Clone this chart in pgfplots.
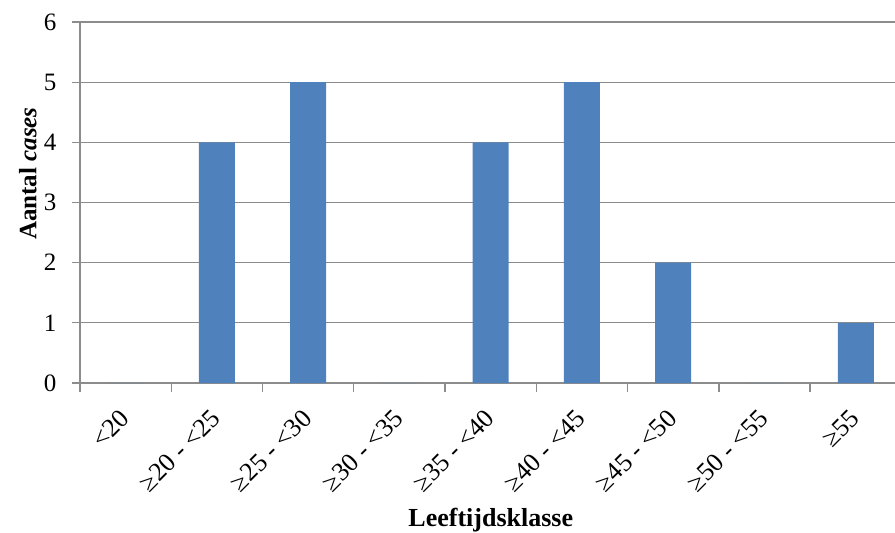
\documentclass[border=0pt]{standalone}
\usepackage{pgfplots}
\pgfplotsset{compat=1.18}
\usepackage{fontspec}
\setmainfont{Liberation Serif}
\definecolor{barblue}{HTML}{4F81BD}
\definecolor{gridgray}{HTML}{8C8C8C}
\begin{document}
\begin{tikzpicture}
\begin{axis}[
  name=ax,
  scale only axis, width=815pt, height=361pt,
  xmin=-0.5, xmax=8.43, ymin=0, ymax=6,
  ybar, bar width=36pt,
  axis lines*=left,
  axis line style={gridgray, line width=1.3pt},
  xtick={0,...,8},
  xticklabels={{<20},{≥20 - <25},{≥25 - <30},{≥30 - <35},{≥35 - <40},{≥40 - <45},{≥45 - <50},{≥50 - <55},{≥55}},
  major x tick style={draw=none},
  minor xtick={-0.5,0.5,...,7.5},
  minor x tick style={gridgray, line width=1.3pt},
  minor tick length=9pt,
  ytick={0,...,6},
  major y tick style={gridgray, line width=1.3pt},
  major tick length=8pt,
  tick align=outside,
  ymajorgrids,
  grid style={gridgray, line width=1.3pt},
  /pgf/number format/assume math mode=true,
  ticklabel style={font=\fontsize{25}{30}\selectfont},
  yticklabel style={xshift=-12pt},
  xticklabel style={font=\fontsize{26}{30}\selectfont, rotate=45, anchor=north east, inner sep=0pt, xshift=-17pt, yshift=-7pt},
  xlabel={\textbf{Leeftijdsklasse}},
  xlabel style={at={(axis description cs:0.504,0)}, anchor=south, yshift=-153pt, font=\fontsize{26}{30}\selectfont},
  ylabel={\textbf{Aantal \textit{cases}}},
  ylabel style={at={(axis description cs:-0.064,0.58)}, anchor=center, font=\fontsize{25}{30}\selectfont},
  clip=false,
]
\addplot[fill=barblue, draw=none] coordinates {(0,0) (1,4) (2,5) (3,0) (4,4) (5,5) (6,2) (7,0) (8,1)};
\end{axis}
\pgfresetboundingbox
\useasboundingbox (-80pt,-150pt) rectangle (815pt,383pt);
\end{tikzpicture}
\end{document}
